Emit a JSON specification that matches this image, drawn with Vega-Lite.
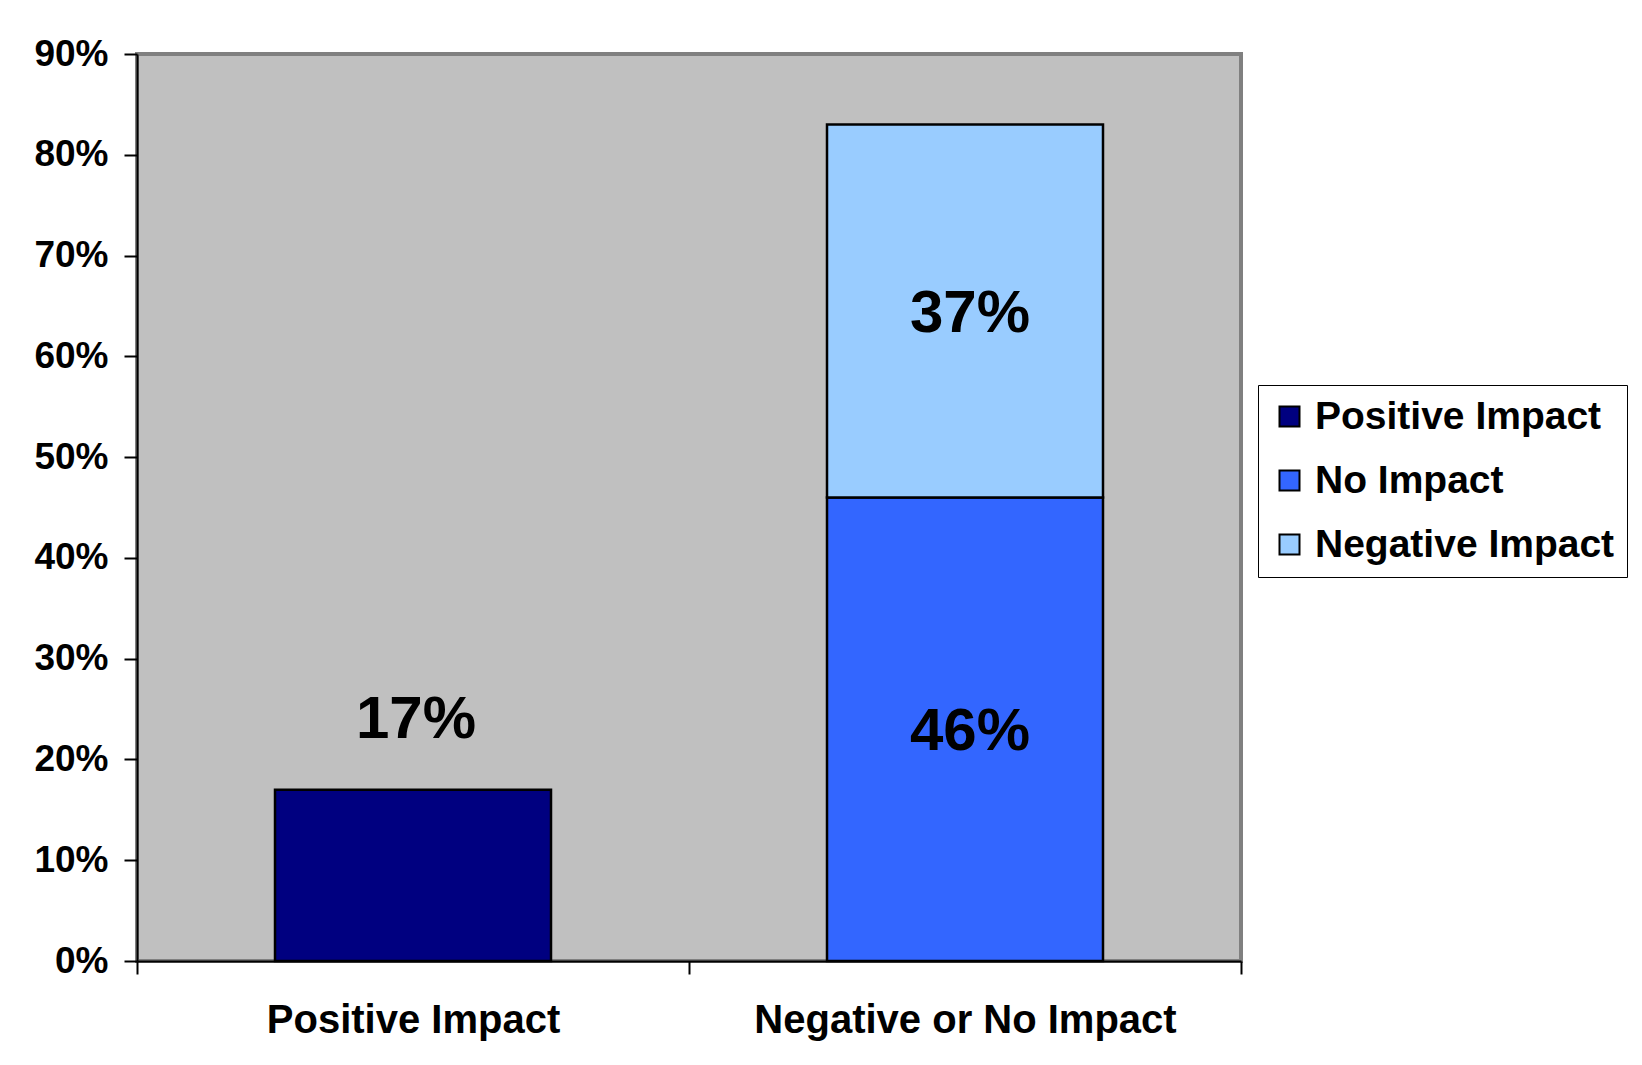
{
  "$schema": "https://vega.github.io/schema/vega-lite/v6.json",
  "width": 1104,
  "height": 907,
  "autosize": {"type": "none"},
  "padding": {"left": 137, "top": 54, "right": 401, "bottom": 104},
  "background": "white",
  "config": {
    "font": "Liberation Sans",
    "view": {"fill": "#C0C0C0", "stroke": "#808080", "strokeWidth": 4},
    "axis": {"grid": false, "domainColor": "black", "domainWidth": 2, "tickColor": "black", "tickWidth": 2, "tickSize": 13, "labelFont": "Liberation Sans", "labelFontWeight": "bold", "labelColor": "black", "title": null, "labelLimit": 600}
  },
  "data": {
    "values": [
      {"category": "Positive Impact", "series": "Positive Impact", "value": 0.17},
      {"category": "Negative or No Impact", "series": "No Impact", "value": 0.46},
      {"category": "Negative or No Impact", "series": "Negative Impact", "value": 0.37}
    ]
  },
  "encoding": {
    "x": {
      "field": "category", "type": "nominal",
      "sort": ["Positive Impact", "Negative or No Impact"],
      "scale": {"paddingInner": 0, "paddingOuter": 0},
      "axis": {"labelAngle": 0, "labelFontSize": 40, "labelPadding": 26, "tickBand": "extent"}
    }
  },
  "layer": [
    {
      "mark": {"type": "bar", "width": {"band": 0.5}, "stroke": "black", "strokeWidth": 2.5},
      "encoding": {
        "y": {
          "field": "value", "type": "quantitative", "stack": "zero",
          "scale": {"domain": [0, 0.9], "nice": false},
          "axis": {"values": [0, 0.1, 0.2, 0.3, 0.4, 0.5, 0.6, 0.7, 0.8, 0.9], "format": ".0%", "labelFontSize": 37, "labelPadding": 16}
        },
        "color": {
          "field": "series", "type": "nominal",
          "scale": {"domain": ["Positive Impact", "No Impact", "Negative Impact"], "range": ["#000080", "#3366FF", "#99CCFF"]},
          "legend": {
            "title": null, "orient": "none", "legendX": 1121, "legendY": 331,
            "symbolType": "square", "symbolSize": 400, "symbolStrokeColor": "black", "symbolStrokeWidth": 2,
            "labelFontSize": 39, "labelFontWeight": "bold", "labelFont": "Liberation Sans", "labelColor": "black",
            "labelOffset": 6, "rowPadding": 24, "padding": 12,
            "strokeColor": "black", "fillColor": "white", "labelLimit": 500
          }
        },
        "order": {"field": "series", "sort": "descending"}
      }
    },
    {
      "transform": [{"filter": "datum.series === 'Positive Impact'"}],
      "mark": {"type": "text", "fontSize": 60, "fontWeight": "bold", "font": "Liberation Sans", "color": "black", "dy": -70, "dx": 3, "baseline": "middle"},
      "encoding": {
        "y": {"field": "value", "type": "quantitative"},
        "text": {"field": "value", "type": "quantitative", "format": ".0%"}
      }
    },
    {
      "transform": [{"filter": "datum.series !== 'Positive Impact'"}],
      "mark": {"type": "text", "fontSize": 60, "fontWeight": "bold", "font": "Liberation Sans", "color": "black", "baseline": "middle", "dy": 3, "dx": 5},
      "encoding": {
        "y": {"field": "value", "type": "quantitative", "stack": "zero", "bandPosition": 0.5},
        "order": {"field": "series", "sort": "descending"},
        "text": {"field": "value", "type": "quantitative", "format": ".0%"}
      }
    }
  ]
}
